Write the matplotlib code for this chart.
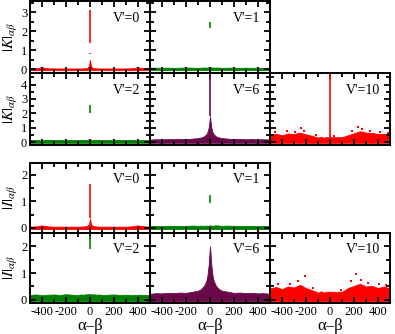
import matplotlib
matplotlib.use("Agg")
import matplotlib.pyplot as plt
from matplotlib.ticker import MultipleLocator

plt.rcParams["font.family"] = ["Liberation Serif", "DejaVu Serif"]
plt.rcParams["mathtext.fontset"] = "stix"
plt.rcParams["axes.unicode_minus"] = False

RED = "#ff0000"
GREEN = "#008000"
MAROON = "#6b0a4b"

# alpha-beta grid the band tops were read on
ab = [-500, -450, -400, -350, -300, -250, -200, -150, -100, -75, -50, -30, -20,
      -10, -5, 0, 5, 10, 20, 30, 50, 75, 100, 150, 200, 250, 300, 350, 400,
      450, 500]

# |K| panels
k0_top = [0.04, 0.05, 0.10, 0.05, 0.04, 0.04, 0.04, 0.04, 0.04, 0.04, 0.05,
          0.06, 0.08, 0.15, 0.30, 0.50, 0.30, 0.15, 0.08, 0.06, 0.05, 0.04,
          0.04, 0.04, 0.04, 0.04, 0.04, 0.05, 0.10, 0.05, 0.04]
k1_top = [0.07, 0.08, 0.07, 0.08, 0.07, 0.08, 0.09, 0.08, 0.07, 0.08, 0.09,
          0.08, 0.09, 0.10, 0.09, 0.10, 0.09, 0.10, 0.09, 0.08, 0.09, 0.08,
          0.07, 0.08, 0.08, 0.07, 0.08, 0.07, 0.08, 0.07, 0.07]
k2_top = [0.14, 0.15, 0.13, 0.16, 0.15, 0.14, 0.16, 0.15, 0.14, 0.16, 0.15,
          0.16, 0.15, 0.17, 0.16, 0.17, 0.16, 0.17, 0.15, 0.16, 0.15, 0.16,
          0.14, 0.15, 0.16, 0.15, 0.14, 0.16, 0.15, 0.14, 0.15]
k6_top = [0.18, 0.20, 0.19, 0.21, 0.20, 0.22, 0.21, 0.24, 0.28, 0.32, 0.40,
          0.55, 0.72, 1.05, 1.40, 1.80, 1.40, 1.05, 0.72, 0.55, 0.40, 0.32,
          0.28, 0.24, 0.21, 0.22, 0.20, 0.21, 0.19, 0.20, 0.18]
k10_top = [0.50, 0.58, 0.48, 0.60, 0.56, 0.66, 0.54, 0.44, 0.32, 0.37, 0.30,
           0.36, 0.31, 0.37, 0.30, 0.35, 0.31, 0.37, 0.30, 0.36, 0.33, 0.35,
           0.34, 0.48, 0.62, 0.76, 0.66, 0.64, 0.56, 0.58, 0.50]
k10_out_x = [-455, -360, -290, -240, -215, -120, 35, 185, 235, 270, 330,
             415, 480]
k10_out_y = [0.68, 0.74, 0.70, 0.95, 0.80, 0.52, 0.45, 0.78, 1.05, 0.88,
             0.80, 0.70, 0.62]

# |I| panels
i0_top = [0.04, 0.05, 0.09, 0.05, 0.04, 0.04, 0.04, 0.04, 0.04, 0.04, 0.05,
          0.06, 0.08, 0.12, 0.22, 0.35, 0.22, 0.12, 0.08, 0.06, 0.05, 0.04,
          0.04, 0.04, 0.04, 0.04, 0.04, 0.05, 0.09, 0.05, 0.04]
i1_top = [0.06, 0.07, 0.06, 0.07, 0.07, 0.06, 0.07, 0.08, 0.07, 0.08, 0.07,
          0.08, 0.07, 0.08, 0.09, 0.09, 0.08, 0.08, 0.07, 0.08, 0.09, 0.08,
          0.07, 0.08, 0.07, 0.07, 0.06, 0.07, 0.06, 0.07, 0.06]
i2_top = [0.18, 0.20, 0.17, 0.19, 0.20, 0.18, 0.21, 0.19, 0.18, 0.20, 0.19,
          0.21, 0.20, 0.22, 0.20, 0.21, 0.20, 0.22, 0.19, 0.21, 0.19, 0.20,
          0.18, 0.19, 0.20, 0.18, 0.19, 0.17, 0.19, 0.18, 0.17]
i6_top = [0.22, 0.25, 0.24, 0.26, 0.25, 0.27, 0.26, 0.30, 0.34, 0.40, 0.52,
          0.72, 0.95, 1.35, 1.70, 2.00, 1.70, 1.35, 0.95, 0.72, 0.52, 0.40,
          0.34, 0.30, 0.26, 0.27, 0.25, 0.26, 0.24, 0.25, 0.22]
i10_top = [0.42, 0.48, 0.40, 0.50, 0.46, 0.56, 0.44, 0.36, 0.27, 0.32, 0.26,
           0.31, 0.27, 0.32, 0.26, 0.30, 0.27, 0.32, 0.26, 0.31, 0.28, 0.30,
           0.30, 0.44, 0.52, 0.60, 0.50, 0.52, 0.44, 0.50, 0.42]
i10_out_x = [-430, -330, -265, -205, -140, 90, 175, 215, 255, 320, 405, 465]
i10_out_y = [0.58, 0.60, 0.72, 0.88, 0.46, 0.38, 0.70, 0.95, 0.74, 0.64,
             0.58, 0.55]

# vertical spikes at alpha-beta = 0: (low, high)
k0_spike = [(1.4, 3.1), (0.80, 0.88)]
k1_spike = [(2.15, 2.5)]
k2_spike = [(2.0, 2.6)]
k6_spike = [(1.8, 5.0)]
k10_spike = [(0.3, 5.0)]
i0_spike = [(0.35, 1.65), (2.18, 2.24)]
i1_spike = [(0.95, 1.25)]
i2_spike = [(1.9, 2.4)]

W, H = 395, 334
fig = plt.figure(figsize=(W / 100, H / 100), dpi=100)


def make_axes(left, top, right, bottom):
    """axes from pixel box"""
    return fig.add_axes([left / W, 1 - bottom / H, (right - left) / W,
                         (bottom - top) / H])


def style(ax, ylim, xlabels, ylabels):
    ax.set_xlim(-500, 500)
    ax.set_ylim(*ylim)
    ax.xaxis.set_major_locator(MultipleLocator(200))
    ax.xaxis.set_minor_locator(MultipleLocator(100))
    ax.yaxis.set_major_locator(MultipleLocator(1))
    ax.yaxis.set_minor_locator(MultipleLocator(0.5))
    ax.tick_params(which="both", direction="in", top=True, right=True,
                   width=1.3, labelsize=9, pad=2)
    ax.tick_params(which="major", length=4)
    ax.tick_params(which="minor", length=3)
    for s in ax.spines.values():
        s.set_linewidth(1.4)
    if not xlabels:
        ax.set_xticklabels([])
    if not ylabels:
        ax.set_yticklabels([])


def draw(ax, top, color, spikes, label, out_x=None, out_y=None):
    ax.fill_between(ab, -0.05, top, color=color, linewidth=0.6,
                    edgecolor=color)
    for lo, hi in spikes:
        ax.vlines(0, lo, hi, color=color, linewidth=1.2)
    if out_x is not None:
        ax.scatter(out_x, out_y, s=3, color=color, marker="s", linewidths=0)
    ax.text(0.92, 0.76, label, transform=ax.transAxes, ha="right",
            va="center", fontsize=10)


cols = [(30, 150), (150, 270), (270, 390)]
rows = [(1, 73), (73, 145), (163, 233), (233, 303)]
row_ylim = [(-0.2, 3.6), (-0.2, 4.8), (-0.2, 2.45), (-0.12, 2.5)]

panels = [
    (0, 0, k0_top, RED, k0_spike, "V'=0", None, None),
    (0, 1, k1_top, GREEN, k1_spike, "V'=1", None, None),
    (1, 0, k2_top, GREEN, k2_spike, "V'=2", None, None),
    (1, 1, k6_top, MAROON, k6_spike, "V'=6", None, None),
    (1, 2, k10_top, RED, k10_spike, "V'=10", k10_out_x, k10_out_y),
    (2, 0, i0_top, RED, i0_spike, "V'=0", None, None),
    (2, 1, i1_top, GREEN, i1_spike, "V'=1", None, None),
    (3, 0, i2_top, GREEN, i2_spike, "V'=2", None, None),
    (3, 1, i6_top, MAROON, [], "V'=6", None, None),
    (3, 2, i10_top, RED, [], "V'=10", i10_out_x, i10_out_y),
]

for r, c, top, color, spikes, label, ox, oy in panels:
    ax = make_axes(cols[c][0], rows[r][0], cols[c][1], rows[r][1])
    draw(ax, top, color, spikes, label, ox, oy)
    style(ax, row_ylim[r], r == 3, c == 0)
    if c == 0:
        name = "K" if r < 2 else "I"
        ax.set_ylabel(r"$|%s|_{\alpha\beta}$" % name, fontsize=11,
                      labelpad=1)
    if r == 3:
        ax.set_xlabel("α–β", fontsize=12, labelpad=0)

fig.savefig("out.png", dpi=100)
